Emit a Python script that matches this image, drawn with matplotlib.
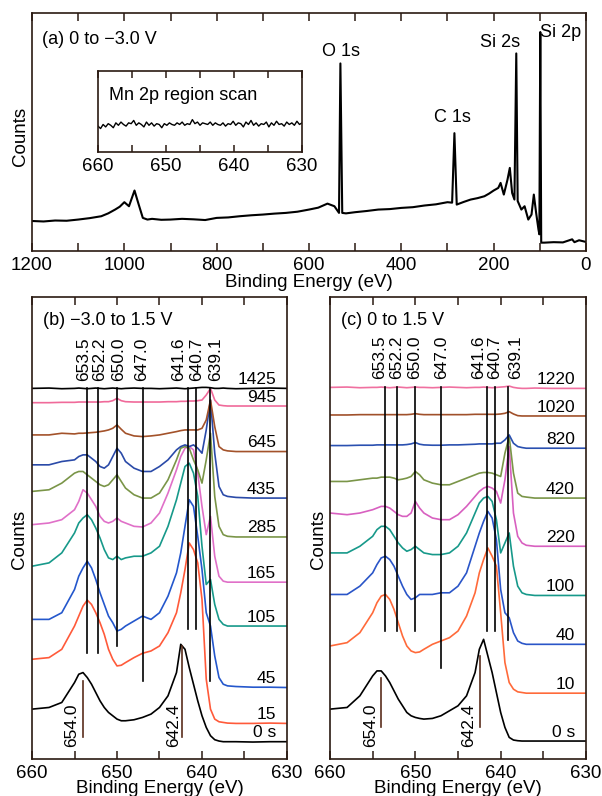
import numpy as np
import matplotlib.pyplot as plt

plt.rcParams['font.family'] = ['Liberation Sans', 'DejaVu Sans']
plt.rcParams['font.size'] = 13

# ---- (a) survey spectrum, 0 to -3.0 V ----
survey_E = [1200, 1175, 1150, 1125, 1100, 1075, 1050, 1035, 1020, 1010, 1000, 990, 978, 970,
            960, 950, 940, 920, 900, 875, 850, 825, 800, 775, 750, 725, 700, 675, 650, 625,
            600, 580, 560, 545, 535, 532, 528, 520, 500, 475, 450, 425, 400, 375, 350, 325,
            300, 290, 285, 280, 265, 250, 235, 220, 210, 200, 190, 185, 178, 170, 165, 160,
            155, 151, 148, 140, 133, 125, 118, 113, 108, 103, 101, 99, 97, 90, 70, 50, 30,
            25, 15, 0]
survey_counts = [0.126, 0.124, 0.128, 0.127, 0.132, 0.138, 0.146, 0.158, 0.174, 0.186,
                 0.205, 0.188, 0.254, 0.202, 0.139, 0.132, 0.135, 0.131, 0.132, 0.135,
                 0.133, 0.130, 0.139, 0.141, 0.146, 0.150, 0.153, 0.157, 0.160, 0.165,
                 0.174, 0.182, 0.199, 0.188, 0.160, 0.788, 0.160, 0.158, 0.163, 0.168,
                 0.174, 0.176, 0.181, 0.184, 0.191, 0.196, 0.205, 0.203, 0.495, 0.195,
                 0.206, 0.216, 0.222, 0.230, 0.241, 0.254, 0.265, 0.286, 0.237, 0.300,
                 0.349, 0.244, 0.216, 0.830, 0.210, 0.174, 0.188, 0.132, 0.153, 0.237,
                 0.160, 0.091, 0.070, 0.920, 0.035, 0.035, 0.037, 0.036, 0.049, 0.037,
                 0.045, 0.038]
survey_peaks = ['O 1s', 'C 1s', 'Si 2s', 'Si 2p']

# inset: Mn 2p region scan
inset_E = np.linspace(660, 630, 81)
inset_counts = [0.32, 0.29, 0.34, 0.31, 0.35, 0.33, 0.30, 0.36, 0.33, 0.37, 0.34, 0.32,
                0.36, 0.35, 0.39, 0.33, 0.36, 0.34, 0.31, 0.37, 0.33, 0.36, 0.32, 0.35,
                0.34, 0.30, 0.35, 0.33, 0.36, 0.34, 0.33, 0.36, 0.34, 0.37, 0.33, 0.35,
                0.34, 0.40, 0.35, 0.37, 0.33, 0.36, 0.35, 0.34, 0.37, 0.33, 0.36, 0.34,
                0.33, 0.36, 0.32, 0.35, 0.34, 0.38, 0.33, 0.36, 0.35, 0.31, 0.37, 0.34,
                0.39, 0.33, 0.36, 0.32, 0.35, 0.34, 0.37, 0.31, 0.36, 0.33, 0.38, 0.34,
                0.35, 0.32, 0.37, 0.34, 0.36, 0.33, 0.38, 0.34, 0.36]

# ---- Mn 2p spectra, common energy grid ----
grid_E = [660, 658, 656.5, 655, 654.5, 654, 653.5, 653, 652.5, 652, 651.5, 651, 650.5,
          650, 649.5, 649, 648, 647, 646, 645, 644, 643, 642.5, 642, 641.5, 641, 640.5,
          640, 639.5, 639, 638.5, 638, 637.5, 637, 636, 634, 632, 630]

# (b) -3.0 to 1.5 V
b_tags = ['0 s', '15', '45', '105', '165', '285', '435', '645', '945', '1425']
b_0 = [150, 155, 170, 230, 255, 260, 245, 225, 200, 175, 155, 140, 130, 120, 115, 115, 118,
       125, 135, 155, 190, 260, 345, 330, 275, 225, 175, 130, 95, 70, 58, 54, 52, 52, 52,
       51, 52, 52]
b_15 = [300, 305, 330, 400, 430, 460, 478, 465, 440, 410, 375, 330, 300, 280, 282, 290, 305,
        318, 325, 340, 380, 440, 500, 570, 650, 630, 590, 480, 240, 150, 120, 112, 110, 108,
        107, 107, 108, 107]
b_45 = [420, 420, 440, 510, 550, 575, 595, 575, 540, 500, 465, 430, 410, 385, 390, 400, 415,
        430, 420, 440, 490, 560, 620, 700, 780, 760, 670, 570, 440, 400, 310, 245, 225, 220,
        218, 216, 216, 215]
b_105 = [580, 590, 620, 680, 710, 725, 735, 720, 695, 665, 630, 605, 600, 610, 600, 605, 610,
         610, 620, 640, 700, 780, 830, 880, 890, 860, 790, 640, 525, 540, 465, 420, 405, 400,
         400, 400, 400, 400]
b_165 = [705, 710, 720, 750, 775, 810, 800, 780, 760, 730, 715, 710, 715, 725, 715, 710, 700,
         698, 710, 740, 800, 870, 910, 935, 940, 930, 860, 760, 675, 730, 610, 550, 535, 532,
         532, 532, 532, 532]
b_285 = [805, 810, 830, 860, 865, 865, 855, 845, 835, 825, 820, 825, 840, 855, 835, 815, 795,
         785, 785, 800, 840, 900, 935, 940, 935, 900, 870, 830, 900, 980, 790, 700, 675, 670,
         668, 668, 668, 668]
b_435 = [885, 885, 895, 900, 910, 915, 915, 905, 895, 880, 875, 885, 910, 935, 920, 895, 875,
         865, 865, 880, 900, 930, 940, 945, 940, 945, 935, 920, 990, 1080, 920, 820, 795, 790,
         787, 785, 785, 785]
b_645 = [975, 975, 980, 978, 980, 980, 981, 982, 983, 985, 987, 990, 995, 1005, 992, 980, 972,
         970, 972, 975, 980, 985, 988, 990, 990, 990, 990, 995, 1020, 1080, 1000, 940, 930,
         927, 925, 925, 925, 925]
b_945 = [1072, 1072, 1073, 1073, 1074, 1074, 1074, 1074, 1074, 1074, 1075, 1075, 1078, 1085,
         1078, 1075, 1074, 1074, 1074, 1074, 1075, 1075, 1076, 1076, 1077, 1077, 1078, 1080,
         1095, 1115, 1080, 1065, 1063, 1062, 1062, 1062, 1062, 1062]
b_1425 = [1115, 1116, 1114, 1115, 1116, 1115, 1114, 1115, 1116, 1115, 1114, 1115, 1116, 1115,
          1114, 1115, 1116, 1115, 1115, 1114, 1115, 1116, 1115, 1114, 1115, 1116, 1117, 1118,
          1118, 1117, 1115, 1115, 1116, 1115, 1114, 1115, 1116, 1115]
b_colors = ['black', '#ff5a3a', '#2457cc', '#17998a', '#e070c8', '#7a9548', '#2a4aa8',
            '#a3522a', '#f06a9a', 'black']

# (c) 0 to 1.5 V
c_tags = ['0 s', '10', '40', '100', '220', '420', '820', '1020', '1220']
c_0 = [150, 155, 190, 250, 265, 265, 250, 230, 205, 180, 160, 140, 130, 125, 122, 120, 122,
       130, 145, 160, 190, 260, 330, 360, 310, 260, 200, 140, 95, 65, 57, 55, 54, 54, 54, 54,
       54, 54]
c_10 = [340, 350, 380, 440, 470, 490, 495, 480, 450, 410, 370, 340, 325, 320, 322, 330, 345,
        355, 365, 385, 430, 500, 560, 600, 635, 610, 580, 440, 290, 230, 210, 202, 200, 198,
        198, 198, 198, 198]
c_40 = [495, 495, 520, 560, 585, 605, 610, 600, 580, 550, 520, 495, 480, 485, 495, 495, 495,
        500, 500, 520, 560, 640, 680, 715, 745, 725, 660, 510, 440, 425, 380, 355, 348, 345,
        345, 345, 345, 345]
c_100 = [620, 620, 640, 670, 690, 700, 700, 690, 670, 650, 635, 625, 630, 640, 630, 620, 615,
         615, 620, 640, 680, 740, 770, 785, 790, 775, 720, 620, 650, 680, 580, 520, 500, 495,
         492, 492, 492, 492]
c_220 = [740, 735, 740, 750, 755, 760, 760, 755, 745, 735, 730, 730, 740, 775, 755, 740, 725,
         720, 720, 735, 760, 790, 805, 815, 820, 815, 805, 770, 840, 940, 740, 670, 650, 643,
         640, 640, 640, 640]
c_420 = [835, 835, 840, 845, 845, 848, 848, 848, 845, 840, 842, 845, 850, 865, 855, 840, 830,
         825, 825, 835, 845, 855, 860, 862, 862, 860, 855, 850, 920, 970, 860, 800, 790, 788,
         785, 785, 785, 785]
c_820 = [943, 943, 944, 944, 945, 945, 945, 945, 945, 945, 945, 946, 948, 952, 947, 945, 944,
         944, 945, 945, 946, 947, 948, 948, 948, 948, 950, 950, 960, 975, 950, 940, 937, 935,
         935, 935, 935, 935]
c_1020 = [1035, 1035, 1036, 1036, 1036, 1036, 1036, 1036, 1036, 1036, 1036, 1036, 1037, 1039,
          1037, 1036, 1036, 1036, 1036, 1036, 1036, 1037, 1037, 1037, 1037, 1037, 1037, 1038,
          1040, 1045, 1038, 1033, 1032, 1032, 1032, 1032, 1032, 1032]
c_1220 = [1118, 1119, 1117, 1118, 1118, 1119, 1118, 1117, 1118, 1119, 1118, 1117, 1118, 1119,
          1118, 1118, 1117, 1118, 1119, 1118, 1117, 1118, 1118, 1119, 1118, 1117, 1118, 1119,
          1120, 1122, 1118, 1116, 1115, 1115, 1116, 1115, 1115, 1115]
c_colors = ['black', '#ff6a3a', '#2a55c8', '#17998a', '#d860c0', '#7a9548', '#2a50b0',
            '#a0502a', '#f070a0']

# marked binding energies (eV)
peak_E = [653.5, 652.2, 650.0, 647.0, 641.6, 640.7, 639.1]
ref_E = [654.0, 642.4]

# ---- layout ----
EDGE = '#2a1a12'
fig = plt.figure(figsize=(6.02, 7.96), dpi=100)


def frame(ax, fs=13.5):
    for s in ax.spines.values():
        s.set_color(EDGE)
        s.set_linewidth(1.2)
    ax.set_yticks([])
    ax.tick_params(axis='x', which='both', direction='in', top=True, bottom=True,
                   length=6, width=1.1, color=EDGE, labelsize=fs, pad=4)


ax_a = fig.add_axes([0.0532, 0.6847, 0.9202, 0.299])
ax_a.plot(survey_E, survey_counts, color='black', lw=1.5)
ax_a.set_xlim(1200, 0)
ax_a.set_ylim(0, 1)
frame(ax_a)
ax_a.set_xticks([1200, 1000, 800, 600, 400, 200, 0])
ax_a.set_xticks(np.arange(100, 1200, 200), minor=True)
ax_a.set_xlabel('Binding Energy (eV)', fontsize=13.5, labelpad=0)
ax_a.set_ylabel('Counts', fontsize=13.5)
ax_a.yaxis.set_label_coords(-0.006, 0.48)
ax_a.text(0.018, 0.89, '(a) 0 to \u22123.0 V', transform=ax_a.transAxes, fontsize=13,
          va='center')
for name, xy in zip(survey_peaks, [(531, 0.84), (290, 0.56), (186, 0.874), (56, 0.92)]):
    ax_a.text(xy[0], xy[1], name, ha='center', va='center', fontsize=13)

ax_in = fig.add_axes([0.1628, 0.809, 0.3389, 0.1018])
ax_in.plot(inset_E, inset_counts, color='black', lw=1.0)
ax_in.set_xlim(660, 630)
ax_in.set_ylim(0, 1)
frame(ax_in)
ax_in.tick_params(axis='x', which='both', length=5)
ax_in.set_xticks([660, 650, 640, 630])
ax_in.set_xticks([655, 645, 635], minor=True)
ax_in.text(0.054, 0.70, 'Mn 2p region scan', transform=ax_in.transAxes, fontsize=13,
           va='center')


def mn_panel(rect, series, colors, tags, title, line_top, line_bottoms, label_x,
             ref_spans, ref_label_x, ylab_x):
    ax = fig.add_axes(rect)
    for y, col, tag in zip(series, colors, tags):
        ax.plot(grid_E, y, color=col, lw=1.2, solid_joinstyle='round')
        ax.text(631.3, y[-1] + 27, tag, ha='right', va='center', fontsize=12.5)
    for e, yb, lx in zip(peak_E, line_bottoms, label_x):
        ax.plot([e, e], [yb, line_top], color='black', lw=1.2)
        ax.text(lx, line_top + 22, f'{e:.1f}', rotation=90, ha='center', va='bottom',
                fontsize=12.5)
    for e, (y0, y1), lx in zip(ref_E, ref_spans, ref_label_x):
        ax.plot([e, e], [y0, y1], color='#5a2e1c', lw=1.2)
        ax.text(lx, 100, f'{e:.1f}', rotation=90, ha='center', va='center', fontsize=12.5)
    ax.text(658.7, 1320, title, fontsize=13, va='center')
    ax.set_xlim(660, 630)
    ax.set_ylim(0, 1390)
    frame(ax)
    ax.set_xticks([660, 650, 640, 630])
    ax.set_xticks([655, 645, 635], minor=True)
    ax.set_xlabel('Binding Energy (eV)', fontsize=13.5, labelpad=-1)
    ax.set_ylabel('Counts', fontsize=13.5)
    ax.yaxis.set_label_coords(ylab_x, 0.475)
    return ax


mn_panel([0.0532, 0.0465, 0.4235, 0.5804],
         [b_0, b_15, b_45, b_105, b_165, b_285, b_435, b_645, b_945, b_1425],
         b_colors, b_tags, '(b) \u22123.0 to 1.5 V', 1115,
         [320, 320, 340, 235, 390, 390, 235],
         [653.96, 652.0, 649.76, 647.1, 642.8, 640.6, 638.35],
         [(65, 235), (65, 340)], [655.3, 643.3], -0.016)

mn_panel([0.5482, 0.0465, 0.4252, 0.5804],
         [c_0, c_10, c_40, c_100, c_220, c_420, c_820, c_1020, c_1220],
         c_colors, c_tags, '(c) 0 to 1.5 V', 1120,
         [385, 385, 385, 275, 385, 385, 358],
         [654.2, 652.2, 650.1, 646.9, 642.6, 640.7, 638.3],
         [(95, 245), (95, 310)], [655.2, 643.8], -0.011)

fig.savefig('out.png', dpi=100)
